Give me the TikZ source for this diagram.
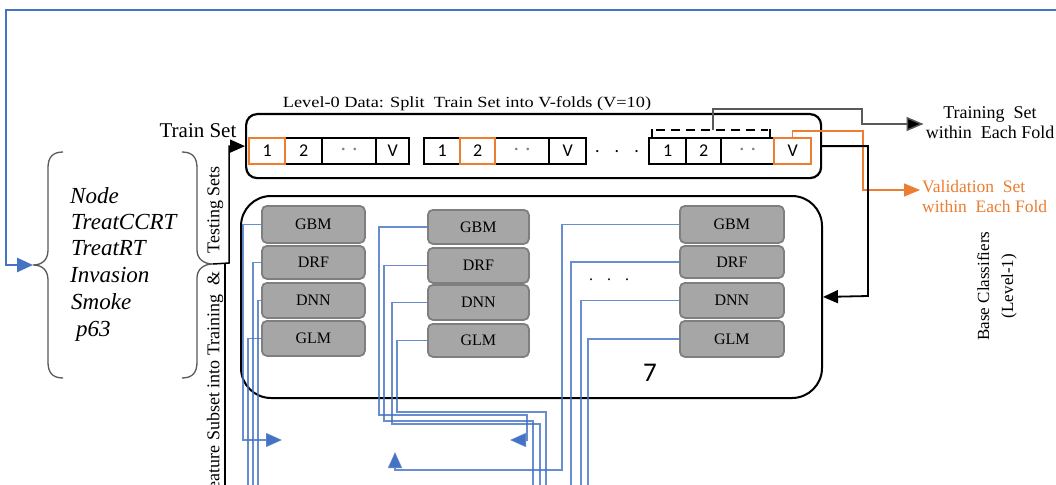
\documentclass[tikz,border=0pt]{standalone}
\usepackage{fontspec}
\setmainfont{Liberation Serif}
\newfontfamily\carl{Carlito}
\usetikzlibrary{arrows.meta}
\definecolor{myblue}{RGB}{68,114,196}
\definecolor{myorange}{RGB}{237,125,49}
\definecolor{clsfill}{RGB}{166,166,166}
\definecolor{clsdraw}{RGB}{127,127,127}
\definecolor{dgray}{RGB}{89,89,89}
\begin{document}
\begin{tikzpicture}[x=1pt,y=-1pt,
  cell/.style={draw, line width=2.2pt, minimum height=26pt, inner sep=0pt, anchor=north west, font=\carl\fontsize{18}{20}\selectfont},
  ocell/.style={cell, draw=myorange},
  cls/.style={draw=clsdraw, fill=clsfill, line width=1.8pt, rounded corners=5pt, anchor=north west, inner sep=0pt, font=\fontsize{16}{18}\selectfont},
  bl/.style={draw=myblue, line width=1.3pt, draw opacity=0.8},
  btip/.style={-{Triangle[length=16pt,width=14pt]}},
  ktip/.style={-{Triangle[length=15pt,width=13pt]}},
  brc/.style={draw=dgray, line width=1.3pt},
  dotc/.style={text=gray},
]
\useasboundingbox (0,0) rectangle (1056,484);
\fill[white] (0,0) rectangle (1056,484);

% ---------- big boxes ----------
\node[draw, line width=2.2pt, rounded corners=11pt, minimum width=575pt, minimum height=64pt, anchor=north west] (foldbox) at (245,113) {};
\node[draw, line width=2pt, rounded corners=30pt, minimum width=581pt, minimum height=202pt, anchor=north west] (clsbox) at (240,195) {};

% ---------- texts ----------
\node[font=\fontsize{21}{24}\selectfont] (trainset) at (198,131) {Train Set};
\node[font=\fontsize{15.5}{18}\selectfont] (lvl) at (467,104) {\scalebox{1.18}[1]{Level-0 Data: Split\ \ Train Set into V-folds (V=10)}};
\node[align=center, inner sep=2pt, font=\fontsize{18}{20}\selectfont] (trlbl) at (990,123) {Training\ \ Set\\within\ \ Each Fold};
\node[align=left, anchor=west, inner sep=2pt, text=myorange, font=\fontsize{17.5}{20}\selectfont] (vallbl) at (920,197) {Validation\ \ Set\\within\ \ Each Fold};
\node[rotate=90, align=center, font=\fontsize{17}{24}\selectfont] (basecl) at (997,286) {Base Classifiers\\(Level-1)};
\node[rotate=90, anchor=east, inner sep=0pt, font=\fontsize{18}{20}\selectfont] (feat) at (215,166) {Feature Subset into Training\hspace{9pt}\&\hspace{18pt}Testing Sets};

\begin{scope}[font=\fontsize{23}{26}\selectfont\itshape]
\node[anchor=base west, inner sep=0pt] (fNode) at (70,203) {Node};
\node[anchor=base west, inner sep=0pt] (fCCRT) at (71,229) {TreatCCRT};
\node[anchor=base west, inner sep=0pt] (fRT) at (71,255) {TreatRT};
\node[anchor=base west, inner sep=0pt] (fInv) at (70,282) {Invasion};
\node[anchor=base west, inner sep=0pt] (fSmoke) at (71,309) {Smoke};
\node[anchor=base west, inner sep=0pt] (fp63) at (76,336) {p63};
\end{scope}

% ---------- braces ----------
\coordinate (lbtip) at (33,265);
\coordinate (rbtip) at (213,264);
\draw[brc] (63,152) .. controls (52,152) and (48,158) .. (48,168) -- (48,250)
  .. controls (48,260) and (42,265) .. (lbtip)
  .. controls (42,265) and (48,270) .. (48,280) -- (48,362)
  .. controls (48,372) and (52,378) .. (63,378);
\draw[brc] (182,152) .. controls (193,152) and (197,158) .. (197,168) -- (197,250)
  .. controls (197,259) and (204,264) .. (rbtip)
  .. controls (204,264) and (197,269) .. (197,278) -- (197,362)
  .. controls (197,372) and (193,378) .. (182,378);

% ---------- fold cells ----------
\node[cell, minimum width=37pt] (g1b) at (284,137) {2};
\node[cell, minimum width=54pt] (g1c) at (321,137) {\color{gray}\textperiodcentered\hspace{7pt}\textperiodcentered};
\node[cell, minimum width=33pt] (g1d) at (375,137) {V};
\node[ocell, minimum width=36pt] (g1a) at (248,137) {1};

\node[cell, minimum width=36pt] (g2a) at (423,137) {1};
\node[cell, minimum width=54pt] (g2c) at (494,137) {\color{gray}\textperiodcentered\hspace{7pt}\textperiodcentered};
\node[cell, minimum width=37pt] (g2d) at (548,137) {V};
\node[ocell, minimum width=35pt] (g2b) at (459,137) {2};

\node[cell, minimum width=37pt] (g3a) at (648,137) {1};
\node[cell, minimum width=35pt] (g3b) at (685,137) {2};
\node[cell, minimum width=53pt] (g3c) at (720,137) {\color{gray}\textperiodcentered\hspace{7pt}\textperiodcentered};
\node[ocell, minimum width=37pt] (g3d) at (773,137) {V};

\node[font=\carl\fontsize{18}{20}\selectfont, inner sep=0pt] (gdots) at (617,152) {.\hspace{15pt}.\hspace{15pt}.};

% dashed bracket over group 3
\coordinate (brmid) at (713,130);
\draw[line width=2.6pt, dash pattern=on 9pt off 6pt] (656,130) -- (768,130);
\draw[line width=1.5pt] (652,129) -- (652,138);
\draw[line width=1.5pt] (770,129) -- (770,138);

% ---------- classifier boxes ----------
\node[cls, minimum width=103pt, minimum height=37pt] (c1gbm) at (261,205) {GBM};
\node[cls, minimum width=103pt, minimum height=33pt] (c1drf) at (261,245) {DRF};
\node[cls, minimum width=103pt, minimum height=35pt] (c1dnn) at (261,282) {DNN};
\node[cls, minimum width=103pt, minimum height=35pt] (c1glm) at (261,320) {GLM};

\node[cls, minimum width=101pt, minimum height=34pt] (c2gbm) at (427,209) {GBM};
\node[cls, minimum width=101pt, minimum height=35pt] (c2drf) at (427,247) {DRF};
\node[cls, minimum width=101pt, minimum height=35pt] (c2dnn) at (427,284) {DNN};
\node[cls, minimum width=101pt, minimum height=33pt] (c2glm) at (427,323) {GLM};

\node[cls, minimum width=104pt, minimum height=37pt] (c3gbm) at (679,205) {GBM};
\node[cls, minimum width=104pt, minimum height=32pt] (c3drf) at (679,245) {DRF};
\node[cls, minimum width=104pt, minimum height=35pt] (c3dnn) at (679,282) {DNN};
\node[cls, minimum width=104pt, minimum height=36pt] (c3glm) at (679,320) {GLM};

\node[inner sep=0pt, font=\fontsize{16}{18}\selectfont] (cdots) at (609,280) {.\hspace{14pt}.\hspace{14pt}.};
\node[font=\carl\fontsize{27}{30}\selectfont] (seven) at (650,373) {7};

% ---------- black / gray / orange connectors ----------
\coordinate (tabcorner) at (229,263);
\draw[line width=1.5pt, ktip] (rbtip) -- (tabcorner) |- (foldbox.west);
\coordinate (tabtop) at (225,263);
\coordinate (tabbot) at (225,490);
\draw[line width=1.5pt] (tabtop) -- (tabbot);

\draw[draw=dgray, line width=1.5pt, -{Triangle[length=17pt,width=14pt,fill=black]}] (brmid) |- (862,109) |- ([yshift=-1pt]trlbl.west);
\draw[draw=myorange, line width=1.2pt, -{Triangle[length=16pt,width=13pt]}] (g3d.north) |- (863,131) |- ([yshift=7pt]vallbl.west);

\coordinate (elbow) at (868,296);
\draw[line width=1.8pt, ktip] (foldbox.east) -| (elbow) -- (clsbox.east);

% big blue feedback line
\coordinate (topR) at (1060,10);
\coordinate (topL) at (6,10);
\draw[draw=myblue, line width=2.6pt, btip] (topR) -- (topL) |- (lbtip);

% ---------- blue connectors ----------
\coordinate (a1) at (282,440);
\coordinate (a2) at (510,440);
\coordinate (a3) at (395,452);
\draw[bl, btip] (c1gbm.west) -| (243,440) -- (a1);
\draw[bl] (c1drf.west) -| (253,490);
\draw[bl] (c1dnn.west) -| (258,490);
\draw[bl] (c1glm.west) -| (248,490);

\draw[bl, btip] (c2gbm.west) -| (379,415) -| (527,440) -- (a2);
\draw[bl] (c2drf.west) -| (384,421) -| (533,490);
\draw[bl] (c2dnn.west) -| (392,424) -| (540,490);
\draw[bl] (c2glm.west) -| (397,412) -| (546,490);

\draw[bl, btip] (c3gbm.west) -| (562,470) -| (a3);
\draw[bl] (c3drf.west) -| (571,490);
\draw[bl] (c3dnn.west) -| (581,490);
\draw[bl] (c3glm.west) -| (588,490);
\end{tikzpicture}
\end{document}
